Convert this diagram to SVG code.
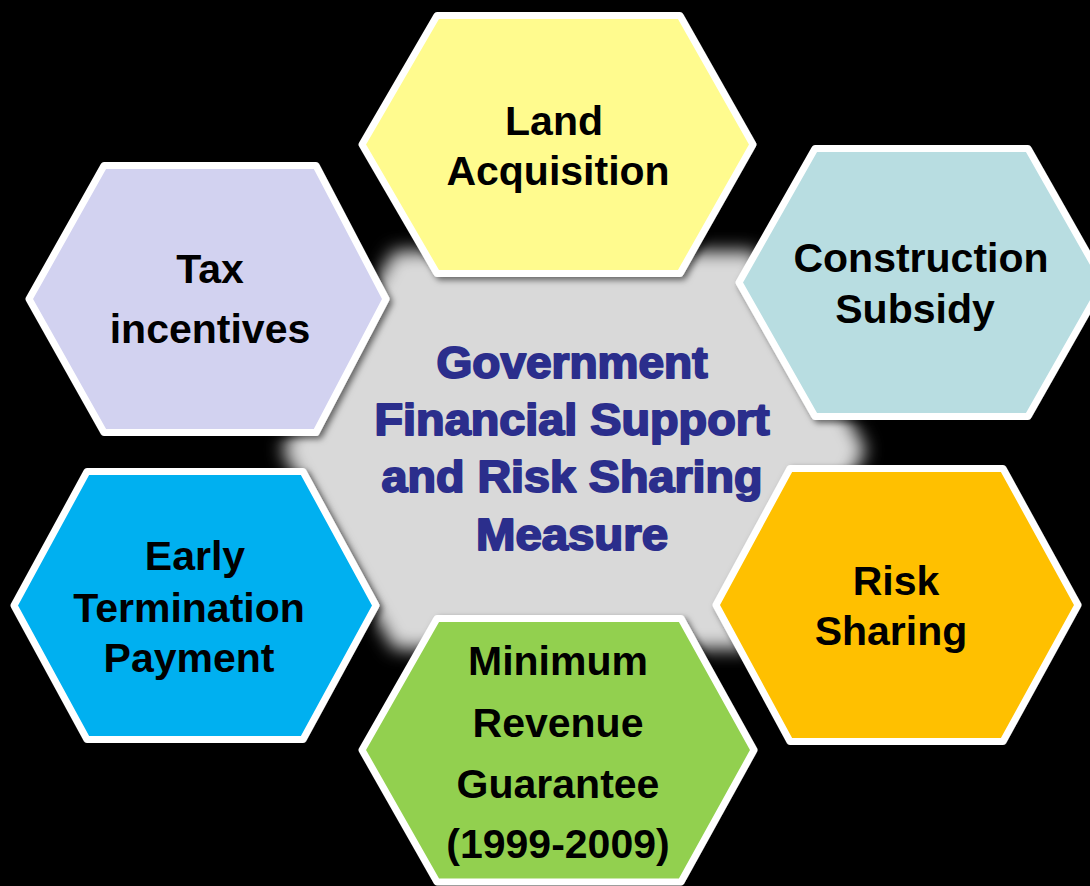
<svg xmlns="http://www.w3.org/2000/svg" width="1090" height="886" viewBox="0 0 1090 886">
<defs>
<filter id="soft" x="-20%" y="-20%" width="140%" height="140%"><feGaussianBlur stdDeviation="9"/></filter>
<filter id="shadow" x="-10%" y="-10%" width="120%" height="120%"><feDropShadow dx="3" dy="3" stdDeviation="3" flood-color="#000" flood-opacity="0.55"/></filter>
<style>
.hex{stroke:#fff;stroke-width:7;stroke-linejoin:round;filter:url(#shadow)}
.lbl{font-family:"Liberation Sans",Arial,sans-serif;font-weight:bold;font-size:41px;fill:#000;text-anchor:middle}
.ctr{font-family:"Liberation Sans",Arial,sans-serif;font-weight:bold;font-size:45px;fill:#2B2E8C;stroke:#2B2E8C;stroke-width:2;stroke-linejoin:round;text-anchor:middle}
</style>
</defs>
<rect width="1090" height="886" fill="#000"/>
<g id="center">
<polygon points="282,450 394,251 754,251 866,450 754,649 394,649" fill="#D9D9D9" filter="url(#soft)"/>
<text class="ctr" x="572" y="378" textLength="271" lengthAdjust="spacingAndGlyphs">Government</text>
<text class="ctr" x="572" y="435" textLength="395" lengthAdjust="spacingAndGlyphs">Financial Support</text>
<text class="ctr" x="572" y="492" textLength="381" lengthAdjust="spacingAndGlyphs">and Risk Sharing</text>
<text class="ctr" x="572" y="550" textLength="192" lengthAdjust="spacingAndGlyphs">Measure</text>
</g>
<g id="connectors"></g>
<g id="land">
<polygon class="hex" fill="#FFFB8E" points="362,144.5 437,15.5 680,15.5 753,144.5 680,273.5 437,273.5"/>
<text class="lbl" x="554" y="135">Land</text>
<text class="lbl" x="558" y="185">Acquisition</text>
</g>
<g id="tax">
<polygon class="hex" fill="#D2D2F0" points="29,299 104,165.5 316,165.5 386,299 316,432.5 104,432.5"/>
<text class="lbl" x="210" y="283">Tax</text>
<text class="lbl" x="210" y="343">incentives</text>
</g>
<g id="construction">
<polygon class="hex" fill="#B8DDE1" points="739,282.5 815,148.5 1028,148.5 1104,282.5 1028,416.5 815,416.5"/>
<text class="lbl" x="921" y="272">Construction</text>
<text class="lbl" x="915" y="323">Subsidy</text>
</g>
<g id="early">
<polygon class="hex" fill="#00B0F0" points="14,605.5 87,471.5 303,471.5 376,605.5 303,739.5 87,739.5"/>
<text class="lbl" x="195" y="570">Early</text>
<text class="lbl" x="189" y="622">Termination</text>
<text class="lbl" x="189" y="672">Payment</text>
</g>
<g id="risk">
<polygon class="hex" fill="#FFC000" points="716,605 790,468.5 1003,468.5 1078,605 1003,741.5 790,741.5"/>
<text class="lbl" x="896" y="595">Risk</text>
<text class="lbl" x="891" y="645">Sharing</text>
</g>
<g id="minimum">
<polygon class="hex" fill="#92D050" points="362,750 437,618.5 681,618.5 754,750 681,882 437,882"/>
<text class="lbl" x="558" y="675">Minimum</text>
<text class="lbl" x="558" y="737">Revenue</text>
<text class="lbl" x="558" y="798">Guarantee</text>
<text class="lbl" x="558" y="858">(1999-2009)</text>
</g>
</svg>
